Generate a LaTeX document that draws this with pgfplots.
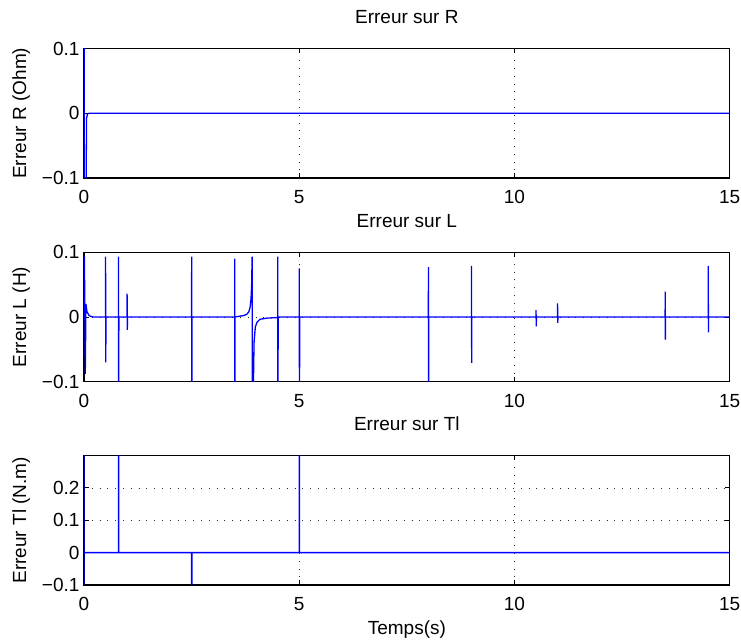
\documentclass[border=0pt]{standalone}
\usepackage{fontspec}
\setmainfont{Liberation Sans}
\usepackage{pgfplots}
\pgfplotsset{compat=1.18}
\definecolor{mblue}{RGB}{0,0,255}
\pgfplotsset{
 mstyle/.style={
  scale only axis, width=645.7pt, height=129.5pt,
  anchor=south west,
  xmin=0, xmax=15, xtick={0,5,10,15}, xticklabels={0,5,10,15},
  axis line style={line width=1.1pt, black},
  tick style={line width=0.8pt, black},
  tick align=inside, major tick length=5pt,
  grid=major,
  major grid style={black!85, line width=0.7pt, dash pattern=on 0.8pt off 7pt},
  title style={at={(axis description cs:0.5,1)}, anchor=base, yshift=18.5pt},
  ylabel style={at={(axis description cs:-0.0898,0.5)}, anchor=base},
  xticklabel style={anchor=base, yshift=-25.5pt},
  yticklabel style={anchor=east, xshift=-1pt},
 },
}
\begin{document}
\begin{tikzpicture}[font=\fontsize{19}{23}\selectfont]
\useasboundingbox (0,0) rectangle (741pt,642pt);

% ---------- Erreur sur R ----------
\begin{axis}[mstyle, at={(84pt,464pt)},
  ymin=-0.1, ymax=0.1, ytick={-0.1,0,0.1}, yticklabels={−0.1,0,0.1},
  title={Erreur sur R}, ylabel={Erreur R (Ohm)}]
\addplot[mblue, line width=1.3pt] coordinates {
 (0,0) (0.001,1) (0.004,-1) (0.045,-1) (0.05,-0.1) (0.06,-0.008) (0.08,-0.001) (0.12,0) (15,0)
};
\end{axis}

% ---------- Erreur sur L ----------
\begin{axis}[mstyle, at={(84pt,260.3pt)},
  ymin=-0.1, ymax=0.1, ytick={-0.1,0,0.1}, yticklabels={−0.1,0,0.1},
  title={Erreur sur L}, ylabel={Erreur L (H)}]
\addplot[mblue, line width=1.3pt] coordinates {
 (0,0) (0.01,0.093) (0.03,-0.088) (0.045,0.02) (0.07,0.008) (0.12,0.002) (0.2,0)
 (0.5,0) (0.501,0.093) (0.506,-0.07) (0.51,0)
 (0.8,0) (0.801,0.093) (0.806,-0.2) (0.81,0)
 (1.0,0) (1.001,0.036) (1.006,-0.02) (1.01,0)
 (2.5,0) (2.501,0.093) (2.506,-0.2) (2.51,0)
 (3.5,0) (3.501,0.09) (3.506,-0.2) (3.51,0)
 (3.6,0.001) (3.7,0.002) (3.78,0.004) (3.83,0.008) (3.86,0.0155) (3.88,0.028) (3.895,0.05) (3.905,0.093)
 (3.915,-0.2) (3.95,-0.04) (3.98,-0.0155) (4.02,-0.008) (4.09,-0.0036) (4.25,-0.0018) (4.48,-0.001)
 (4.5,-0.001) (4.501,0.093) (4.506,-0.2) (4.51,0)
 (5.0,0) (5.001,0.075) (5.006,-0.2) (5.01,0)
 (8.0,0) (8.001,0.077) (8.006,-0.2) (8.01,0)
 (9.0,0) (9.001,0.079) (9.006,-0.071) (9.01,0)
 (10.5,0) (10.501,0.0104) (10.506,-0.0145) (10.51,0)
 (11.0,0) (11.001,0.021) (11.006,-0.0093) (11.01,0)
 (13.5,0) (13.501,0.039) (13.506,-0.035) (13.51,0)
 (14.5,0) (14.501,0.079) (14.506,-0.024) (14.51,0)
 (15,0)
};
\end{axis}

% ---------- Erreur sur Tl ----------
\begin{axis}[mstyle, at={(84pt,57pt)},
  ymin=-0.1, ymax=0.3, ytick={-0.1,0,0.1,0.2}, yticklabels={−0.1,0,0.1,0.2},
  title={Erreur sur Tl}, ylabel={Erreur Tl (N.m)},
  xlabel={Temps(s)},
  xlabel style={at={(axis description cs:0.5,0)}, anchor=base, yshift=-50pt}]
\addplot[mblue, line width=1.3pt] coordinates {
 (0,1) (0.001,-1) (0.002,0)
 (0.8,0) (0.801,1) (0.806,0)
 (2.5,0) (2.501,-1) (2.506,0)
 (5.0,0) (5.001,1) (5.006,0)
 (15,0)
};
\end{axis}
\end{tikzpicture}
\end{document}
